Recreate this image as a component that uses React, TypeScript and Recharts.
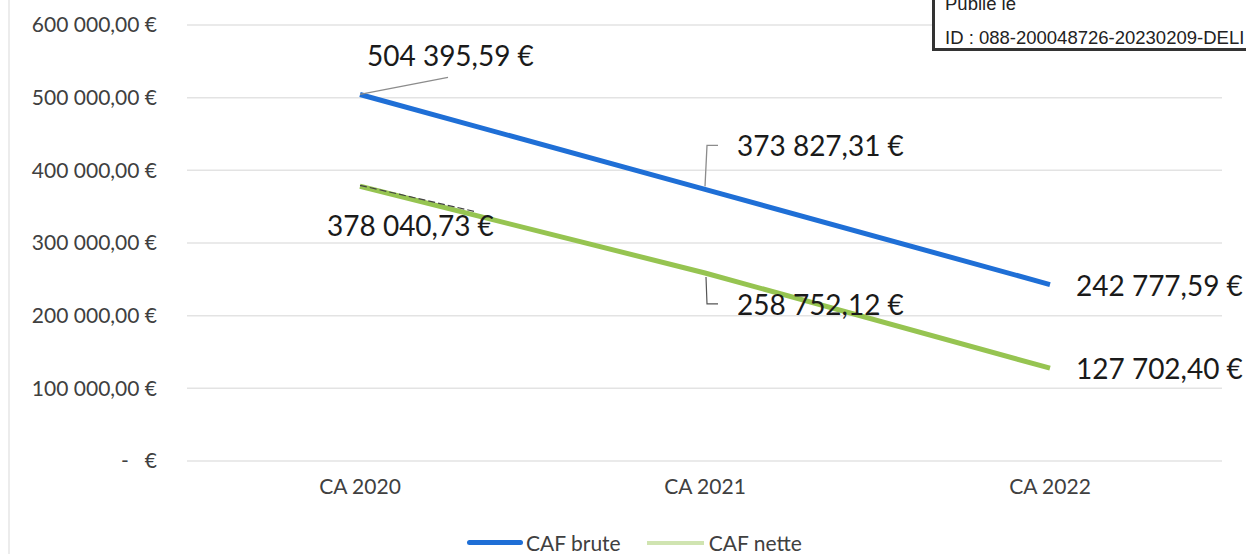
import { LineChart, Line, XAxis, YAxis, CartesianGrid, LabelList, Legend } from "recharts";

const categories = ["CA 2020", "CA 2021", "CA 2022"];
const cafBrute = [504395.59, 373827.31, 242777.59];
const cafNette = [378040.73, 258752.12, 127702.4];
const yTicks = [0, 100000, 200000, 300000, 400000, 500000, 600000];

const data = categories.map((name, i) => ({
  name,
  brute: cafBrute[i],
  nette: cafNette[i],
}));

const BLUE = "#1F6FD6";
const GREEN = "#96C451";
const FONT = "Lato, 'Open Sans', 'Noto Sans', sans-serif";

function fmt(v: number, dec: number) {
  const [int, frac] = v.toFixed(dec).split(".");
  const withSpaces = int.replace(/\B(?=(\d{3})+(?!\d))/g, " ");
  return withSpaces + "," + frac + " €";
}

function yTickFormat(v: number) {
  if (v === 0) return "-\u00a0\u00a0\u00a0€";
  return fmt(v, 2);
}

// label placement per point: offset of the text from the point, and leader style
type LabelPos = { dx: number; dy: number; leader: "line" | "dash" | "up" | "down" | "none" };
const brutePos: LabelPos[] = [
  { dx: 7, dy: -39, leader: "line" },
  { dx: 32, dy: -44, leader: "up" },
  { dx: 26, dy: 0, leader: "none" },
];
const nettePos: LabelPos[] = [
  { dx: -33, dy: 39, leader: "dash" },
  { dx: 32, dy: 31, leader: "down" },
  { dx: 26, dy: 0, leader: "none" },
];

function makeLabel(pos: LabelPos[]) {
  return (props: any) => {
    const { x, y, value, index } = props;
    const p = pos[index];
    const tx = x + p.dx;
    const ty = y + p.dy;
    let leader = null;
    if (p.leader === "line") {
      leader = <line x1={x} y1={y} x2={x + 88} y2={y - 17} stroke="#8c8c8c" strokeWidth={1.3} />;
    } else if (p.leader === "dash") {
      leader = <line x1={x} y1={y - 1} x2={x + 114} y2={y + 25} stroke="#444" strokeWidth={1.2} strokeDasharray="7 3" />;
    } else if (p.leader === "up") {
      leader = (
        <polyline
          points={`${x},${y - 3} ${x + 2},${ty} ${x + 13},${ty}`}
          fill="none"
          stroke="#8c8c8c"
          strokeWidth={1.3}
        />
      );
    } else if (p.leader === "down") {
      leader = (
        <polyline
          points={`${x + 1},${y + 4} ${x + 2},${ty} ${x + 13},${ty}`}
          fill="none"
          stroke="#555"
          strokeWidth={1.2}
        />
      );
    }
    return (
      <g>
        {leader}
        <text
          x={tx}
          y={ty}
          dominantBaseline="central"
          textAnchor="start"
          fontSize={28}
          fontFamily={FONT}
          fill="#1a1a1a"
        >
          {fmt(value, 2)}
        </text>
      </g>
    );
  };
}

function LegendContent() {
  return (
    <div
      style={{
        display: "flex",
        justifyContent: "flex-start",
        alignItems: "center",
        fontFamily: FONT,
        fontSize: 21,
        color: "#404040",
        gap: 26,
        paddingLeft: 467,
        paddingTop: 17,
      }}
    >
      <span style={{ display: "flex", alignItems: "center" }}>
        <span style={{ display: "inline-block", width: 56, height: 5, background: BLUE, borderRadius: 3, marginRight: 3 }} />
        CAF brute
      </span>
      <span style={{ display: "flex", alignItems: "center" }}>
        <span style={{ display: "inline-block", width: 57, height: 4, background: GREEN, opacity: 0.45, marginRight: 5 }} />
        CAF nette
      </span>
    </div>
  );
}

export default function App() {
  return (
    <div style={{ position: "absolute", left: 0, top: 0, width: 1246, height: 554, background: "#fff", overflow: "hidden" }}>
      <div style={{ position: "absolute", left: 8, top: 0, width: 2, height: 554, background: "#ececec" }} />
      <LineChart
        width={1246}
        height={554}
        data={data}
        margin={{ top: 25, right: 24, bottom: 0, left: 0 }}
      >
        <CartesianGrid horizontal vertical={false} stroke="#e3e3e3" strokeWidth={1.5} />
        <XAxis
          dataKey="name"
          axisLine={false}
          tickLine={false}
          padding={{ left: 173, right: 172 }}
          tick={{ fontSize: 21, fontFamily: FONT, fill: "#404040" }}
          tickMargin={12}
          height={52}
        />
        <YAxis
          width={187}
          domain={[0, 600000]}
          ticks={yTicks}
          tickFormatter={yTickFormat}
          axisLine={false}
          tickLine={false}
          tick={{ fontSize: 21, fontFamily: FONT, fill: "#404040", dx: -22 }}
          interval={0}
        />
        <Line
          type="linear"
          dataKey="brute"
          name="CAF brute"
          stroke={BLUE}
          strokeWidth={5}
          dot={false}
          isAnimationActive={false}
        >
          <LabelList dataKey="brute" content={makeLabel(brutePos)} />
        </Line>
        <Line
          type="linear"
          dataKey="nette"
          name="CAF nette"
          stroke={GREEN}
          strokeWidth={5}
          dot={false}
          isAnimationActive={false}
        >
          <LabelList dataKey="nette" content={makeLabel(nettePos)} />
        </Line>
        <Legend verticalAlign="bottom" height={41} content={<LegendContent />} />
      </LineChart>
      <div
        style={{
          position: "absolute",
          left: 932,
          top: -30,
          width: 330,
          height: 81,
          border: "3px solid #333",
          background: "#fff",
          fontFamily: "'Liberation Sans', Arial, sans-serif",
          fontSize: 18.5,
          color: "#222",
          boxSizing: "border-box",
        }}
      >
        <div style={{ position: "absolute", left: 10, top: 20 }}>Publié le</div>
        <div style={{ position: "absolute", left: 10, top: 54 }}>ID : 088-200048726-20230209-DELI</div>
      </div>
    </div>
  );
}
